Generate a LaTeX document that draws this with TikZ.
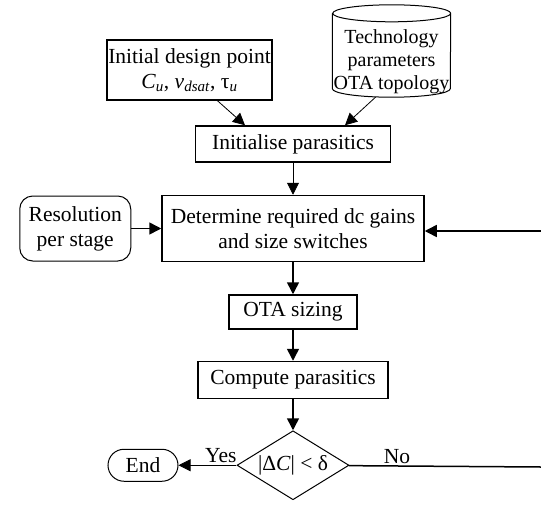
\documentclass[tikz,border=0pt]{standalone}
\usepackage{fontspec}
\setmainfont{Liberation Serif}
\usetikzlibrary{arrows.meta, positioning, shapes.geometric}

\begin{document}
\begin{tikzpicture}[
	x=1pt, y=-1pt,
	font=\fontsize{21.5}{25}\selectfont,
	node distance=32pt and 30pt,
	box/.style={
		draw,
		rectangle,
		line width=1.5pt,
		align=center,
		inner sep=1pt
	},
	roundbox/.style={
		draw,
		rectangle,
		rounded corners=13pt,
		line width=1pt,
		align=center,
		inner sep=1pt
	},
	decision/.style={
		draw,
		diamond,
		aspect=1.62,
		line width=1pt,
		inner sep=1pt,
		minimum width=112pt,
		minimum height=69pt
	},
	store/.style={
		rectangle,
		inner sep=0pt,
		font=\fontsize{20}{23}\selectfont,
		minimum width=118pt,
		minimum height=92pt
	},
	arrow/.style={-{Triangle[length=12pt, width=12pt]}, line width=1.5pt},
	thinarrow/.style={-{Triangle[length=12pt, width=12pt]}, line width=0.8pt}
	]
	\useasboundingbox (0,0) rectangle (541,504);
	
	% Entradas
	\node[box, minimum width=165pt, minimum height=60pt] (design) at (189.5,70)
		{Initial design point\\
		\textit{C}\textsubscript{\textit{u}}, \textit{v}\textsubscript{\textit{dsat}}, τ\textsubscript{\textit{u}}};
	\node[store] (tech) at (391.5,51)
		{\raisebox{-16pt}[0pt][0pt]{\begin{tabular}{@{}c@{}}Technology\\parameters\\OTA topology\end{tabular}}};
	% cilindro
	\draw[line width=1pt] ([yshift=-8.5pt]tech.north west) -- ([yshift=8.5pt]tech.south west)
		arc[start angle=180, end angle=360, x radius=59pt, y radius=8.5pt]
		-- ([yshift=-8.5pt]tech.north east)
		arc[start angle=0, end angle=180, x radius=59pt, y radius=8.5pt]
		arc[start angle=180, end angle=360, x radius=59pt, y radius=8.5pt];
	
	% Columna central
	\node[box, minimum width=195pt, minimum height=36pt] (initpar) at (293,144) {Initialise parasitics};
	
	\node[box, minimum width=262pt, minimum height=66pt, below=of initpar] (gains) {Determine required dc gains\\
		and size switches};
	
	\node[box, minimum width=128pt, minimum height=34pt, below=of gains] (sizing) {OTA sizing};
	
	\node[box, minimum width=190pt, minimum height=37pt, below=31pt of sizing] (comppar) {Compute parasitics};
	
	\node[decision, below=31pt of comppar] (check) {|Δ\textit{C}| < δ};
	
	% Laterales
	\node[roundbox, minimum width=111pt, minimum height=65pt, left=of gains] (resol) {Resolution\\per stage};
	\node[roundbox, rounded corners=16pt, minimum width=70pt, minimum height=32pt, left=58pt of check] (stop) {End};
	
	\coordinate (fbin) at (541,231);
	\coordinate (fbout) at (541,467);
	
	% Flechas
	\draw[thinarrow] ([xshift=28pt]design.south) -- ([xshift=-48pt]initpar.north);
	\draw[thinarrow] ([xshift=-16pt]tech.south) -- ([xshift=52pt]initpar.north);
	\draw[thinarrow] (initpar) -- (gains);
	\draw[arrow] (gains) -- (sizing);
	\draw[arrow] (sizing) -- (comppar);
	\draw[arrow] (comppar) -- (check);
	\draw[arrow] (resol) -- (gains);
	\draw[arrow] (fbin) -- (gains.east |- fbin);
	
	\draw[thinarrow] (check) -- node[above, pos=0.27, inner sep=2pt] {Yes} (stop);
	\draw[line width=1.5pt] (check) -- node[above, pos=0.25, inner sep=2pt] {No} (fbout);
	
\end{tikzpicture}
\end{document}
